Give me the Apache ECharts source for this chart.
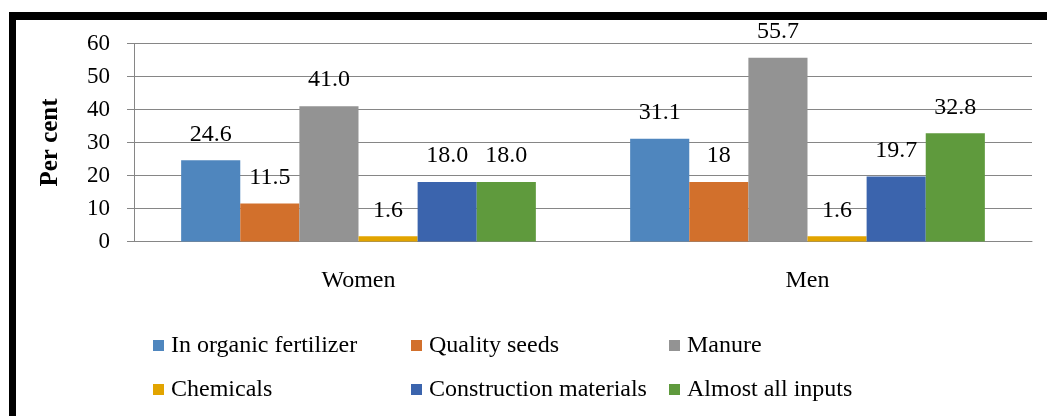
<!doctype html>
<html>
<head>
<meta charset="utf-8">
<script src="https://cdn.jsdelivr.net/npm/echarts@6/dist/echarts.min.js"></script>
<style>
  html, body { margin: 0; padding: 0; background: #fff; }
  #chart { width: 1047px; height: 416px; }
  /* partial black frame, top and left only */
  .frame { position: absolute; left: 9px; top: 12px; right: 0; bottom: 0;
           border-top: 8px solid #000; border-left: 7px solid #000; pointer-events: none; }
</style>
</head>
<body>
<div id="chart"></div>
<div class="frame"></div>
<script>
const categories = ['Women', 'Men'];
const seriesNames = ['In organic fertilizer', 'Quality seeds', 'Manure', 'Chemicals', 'Construction materials', 'Almost all inputs'];
const fertilizer = [24.6, 31.1];
const seeds = [11.5, 18];
const manure = [41.0, 55.7];
const chemicals = [1.6, 1.6];
const construction = [18.0, 19.7];
const allInputs = [18.0, 32.8];
// labels as printed on the chart (Men seeds shown as "18")
const labelText = [
  ['24.6', '31.1'], ['11.5', '18'], ['41.0', '55.7'],
  ['1.6', '1.6'], ['18.0', '19.7'], ['18.0', '32.8']
];
const colors = ['#4f86be', '#d2702c', '#939393', '#e2a400', '#3b64ad', '#5f9a3d'];

const FONT = '"Liberation Serif", "Times New Roman", serif';
const values = [fertilizer, seeds, manure, chemicals, construction, allInputs];

const chart = echarts.init(document.getElementById('chart'), null, { renderer: 'canvas' });
chart.setOption({
  animation: false,
  textStyle: { fontFamily: FONT },
  grid: { left: 134, right: 15, top: 43.5, bottom: 174.5 },
  legend: {
    left: 153, top: 330, width: 800, padding: 0,
    icon: 'rect', itemWidth: 11, itemHeight: 11, itemGap: 13,
    textStyle: { fontFamily: FONT, fontSize: 24, color: '#000', width: 227, lineHeight: 31, padding: [0, 0, 0, 2] },
    data: seriesNames
  },
  xAxis: {
    type: 'category', data: categories,
    axisLine: { lineStyle: { color: '#868686' } },
    axisTick: { length: 9, lineStyle: { color: '#868686' } },
    axisLabel: { fontFamily: FONT, fontSize: 24, color: '#000', margin: 27 }
  },
  yAxis: {
    type: 'value', min: 0, max: 60, interval: 10,
    name: 'Per cent', nameLocation: 'middle', nameGap: 71,
    nameTextStyle: { fontFamily: FONT, fontSize: 25, fontWeight: 'bold', color: '#000' },
    axisLine: { show: true, lineStyle: { color: '#868686' } },
    axisTick: { show: true, length: 7, lineStyle: { color: '#868686' } },
    axisLabel: { fontFamily: FONT, fontSize: 23, color: '#000', margin: 24 },
    splitLine: { lineStyle: { color: '#868686' } }
  },
  series: seriesNames.map((name, i) => ({
    name, type: 'bar', data: values[i],
    barGap: '0%', barCategoryGap: '21%',
    itemStyle: { color: colors[i] },
    label: {
      show: true, position: 'top', distance: 14,
      fontFamily: FONT, fontSize: 24, color: '#000',
      formatter: p => labelText[i][p.dataIndex]
    }
  }))
});
</script>
</body>
</html>
